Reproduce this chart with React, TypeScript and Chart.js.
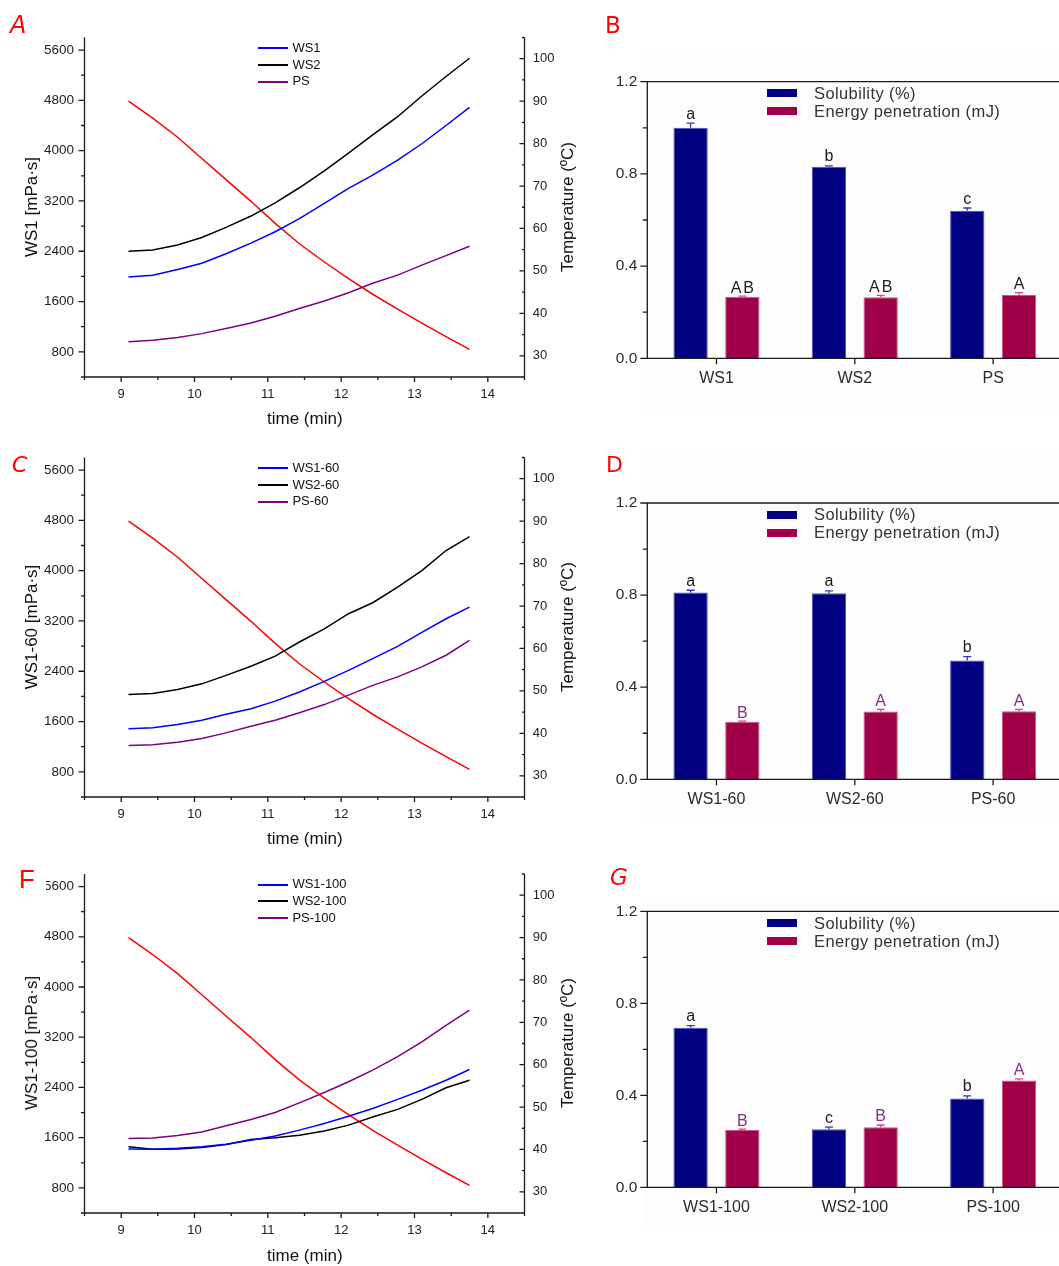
import React, { useEffect, useRef } from 'react';
import { Chart, registerables } from 'chart.js';
Chart.register(...registerables);

// ---------------- data ----------------
const TIME = [9.1, 9.43, 9.77, 10.1, 10.43, 10.77, 11.1, 11.43, 11.77, 12.1, 12.43, 12.77, 13.1, 13.43, 13.75];
const TEMPERATURE = [90, 86, 81.5, 76.5, 71.5, 66.4, 61.2, 56.4, 52.1, 48.2, 44.5, 41, 37.7, 34.5, 31.5];

const WS1 = [1990, 2020, 2110, 2210, 2360, 2530, 2710, 2920, 3160, 3400, 3610, 3850, 4110, 4400, 4690];
const WS2 = [2400, 2420, 2500, 2620, 2780, 2960, 3170, 3410, 3680, 3960, 4250, 4540, 4870, 5180, 5470];
const PS = [960, 985, 1030, 1090, 1170, 1260, 1365, 1490, 1610, 1740, 1890, 2020, 2180, 2330, 2480];

const WS1_60 = [1485, 1500, 1555, 1620, 1715, 1805, 1925, 2070, 2240, 2415, 2600, 2795, 3020, 3235, 3420];
const WS2_60 = [2030, 2045, 2110, 2200, 2335, 2480, 2640, 2865, 3075, 3315, 3490, 3740, 4000, 4320, 4540];
const PS_60 = [1220, 1230, 1270, 1330, 1420, 1525, 1620, 1740, 1870, 2020, 2175, 2310, 2470, 2655, 2890];

const WS1_100 = [1420, 1415, 1430, 1455, 1495, 1560, 1625, 1720, 1825, 1940, 2065, 2210, 2355, 2515, 2685];
const WS2_100 = [1455, 1415, 1420, 1445, 1490, 1570, 1600, 1640, 1705, 1800, 1930, 2050, 2210, 2395, 2515];
const PS_100 = [1585, 1595, 1635, 1690, 1790, 1890, 2000, 2155, 2320, 2490, 2675, 2890, 3125, 3390, 3630];

const TIME_TICKS = [9, 10, 11, 12, 13, 14];
const VISC_TICKS = [800, 1600, 2400, 3200, 4000, 4800, 5600];
const TEMP_TICKS = [30, 40, 50, 60, 70, 80, 90, 100];
const BAR_TICKS = [0, 0.4, 0.8, 1.2];

const CAT_B = ['WS1', 'WS2', 'PS'];
const SOL_B = [1.0, 0.831, 0.64];
const SOL_ERR_B = [0.02, 0.004, 0.012];
const EN_B = [0.267, 0.265, 0.275];
const EN_ERR_B = [0.003, 0.008, 0.01];
const LOW_B = ['a', 'b', 'c'];
const UP_B = ['AB', 'AB', 'A'];

const CAT_D = ['WS1-60', 'WS2-60', 'PS-60'];
const SOL_D = [0.811, 0.808, 0.516];
const SOL_ERR_D = [0.01, 0.01, 0.017];
const EN_D = [0.25, 0.294, 0.296];
const EN_ERR_D = [0.003, 0.01, 0.008];
const LOW_D = ['a', 'a', 'b'];
const UP_D = ['B', 'A', 'A'];

const CAT_G = ['WS1-100', 'WS2-100', 'PS-100'];
const SOL_G = [0.694, 0.252, 0.386];
const SOL_ERR_G = [0.009, 0.01, 0.012];
const EN_G = [0.249, 0.261, 0.465];
const EN_ERR_G = [0.004, 0.01, 0.007];
const LOW_G = ['a', 'c', 'b'];
const UP_G = ['B', 'B', 'A'];

// ---------------- styles ----------------
const FONT = "'Liberation Sans', Arial, sans-serif";
const BLUE = '#0000ff';
const BLACK = '#000000';
const PURPLE = '#7f007f';
const RED = '#ff0000';
const NAVY = '#000080';
const CRIMSON = '#a00048';

function mids(arr: number[]) {
  const out: number[] = [];
  for (let i = 0; i < arr.length - 1; i++) out.push((arr[i] + arr[i + 1]) / 2);
  return out;
}

const axisPlugin = {
  id: 'originAxes',
  afterDraw(chart: any, _a: any, opts: any) {
    const { ctx, chartArea: ca } = chart;
    ctx.save();
    ctx.strokeStyle = '#1a1a1a';
    ctx.lineWidth = 1.3;
    ctx.beginPath();
    for (const l of opts.lines) {
      if (l === 'left') { ctx.moveTo(ca.left, ca.top); ctx.lineTo(ca.left, ca.bottom); }
      if (l === 'right') { ctx.moveTo(ca.right, ca.top); ctx.lineTo(ca.right, ca.bottom); }
      if (l === 'bottom') { ctx.moveTo(ca.left, ca.bottom); ctx.lineTo(ca.right, ca.bottom); }
      if (l === 'top') { ctx.moveTo(ca.left, ca.top); ctx.lineTo(ca.right, ca.top); }
    }
    for (const t of opts.ticks) {
      const s = chart.scales[t.scale];
      const draw = (v: number, len: number) => {
        const p = s.getPixelForValue(v);
        if (t.side === 'left') { ctx.moveTo(ca.left, p); ctx.lineTo(ca.left - len, p); }
        if (t.side === 'right') { ctx.moveTo(ca.right, p); ctx.lineTo(ca.right - len, p); }
        if (t.side === 'bottom') { ctx.moveTo(p, ca.bottom); ctx.lineTo(p, ca.bottom + len); }
      };
      t.major.forEach((v: number) => draw(v, t.majorLen));
      (t.minor || []).forEach((v: number) => draw(v, t.minorLen));
    }
    ctx.stroke();
    ctx.restore();
  },
};

const barDecor = {
  id: 'barDecor',
  afterDatasetsDraw(chart: any, _a: any, opts: any) {
    const { ctx } = chart;
    const y = chart.scales.y;
    ctx.save();
    opts.sets.forEach((set: any, di: number) => {
      const meta = chart.getDatasetMeta(di);
      const values = chart.data.datasets[di].data;
      meta.data.forEach((el: any, i: number) => {
        const top = y.getPixelForValue(values[i] + set.err[i]);
        ctx.strokeStyle = set.errColor;
        ctx.lineWidth = 1.3;
        ctx.beginPath();
        ctx.moveTo(el.x, el.y);
        ctx.lineTo(el.x, top);
        ctx.moveTo(el.x - 4, top);
        ctx.lineTo(el.x + 4, top);
        ctx.stroke();
        ctx.fillStyle = set.letterColor;
        ctx.font = `16px ${FONT}`;
        ctx.textAlign = 'center';
        ctx.textBaseline = 'alphabetic';
        try { (ctx as any).letterSpacing = set.letters[i].length > 1 ? '2px' : '0px'; } catch (e) {}
        ctx.fillText(set.letters[i], el.x + (set.letters[i].length > 1 ? 1 : 0), top - set.gap);
      });
    });
    ctx.restore();
  },
};

type Series = { label: string; values: number[]; color: string };

function LinePanel({ shift, series, yTitle, letter, letterStyle }: { shift: number; series: Series[]; yTitle: string; letter: string; letterStyle: any }) {
  const ref = useRef<HTMLCanvasElement>(null);
  const canvasTop = Math.floor(shift);
  const frac = shift - canvasTop;
  useEffect(() => {
    const tickFont = { family: FONT, size: 13 };
    const chart = new Chart(ref.current!, {
      type: 'line',
      data: {
        datasets: [
          ...series.map((s) => ({
            label: s.label,
            data: TIME.map((t, i) => ({ x: t, y: s.values[i] })),
            borderColor: s.color,
            borderWidth: 1.5,
            pointRadius: 0,
            tension: 0,
            yAxisID: 'y',
          })),
          {
            label: 'Temperature',
            data: TIME.map((t, i) => ({ x: t, y: TEMPERATURE[i] })),
            borderColor: RED,
            borderWidth: 1.5,
            pointRadius: 0,
            tension: 0,
            yAxisID: 'y2',
          },
        ],
      },
      options: {
        animation: false,
        responsive: false,
        maintainAspectRatio: false,
        layout: { padding: { top: 37.5 + frac, left: 0, right: 0, bottom: 0 } },
        plugins: {
          legend: { display: false },
          tooltip: { enabled: false },
          originAxes: {
            lines: ['left', 'right', 'bottom'],
            ticks: [
              { scale: 'y', side: 'left', major: VISC_TICKS, minor: [400, ...mids(VISC_TICKS)], majorLen: 6, minorLen: 3.5 },
              { scale: 'y2', side: 'right', major: TEMP_TICKS, minor: [25, ...mids(TEMP_TICKS), 105], majorLen: 5, minorLen: 2.5 },
              { scale: 'x', side: 'bottom', major: TIME_TICKS, minor: [8.5, ...mids(TIME_TICKS), 14.5], majorLen: 5, minorLen: 3 },
            ],
          },
        } as any,
        scales: {
          x: {
            type: 'linear',
            min: 8.5,
            max: 14.5,
            afterBuildTicks: (s: any) => { s.ticks = TIME_TICKS.map((v) => ({ value: v })); },
            afterFit: (s: any) => { s.height = 63; },
            grid: { display: false, drawTicks: false },
            border: { display: false },
            ticks: { padding: 9.5, font: tickFont, color: '#222', maxRotation: 0, autoSkip: false, callback: (v: any) => String(v) },
          },
          y: {
            position: 'left',
            min: 400,
            max: 5800,
            afterBuildTicks: (s: any) => { s.ticks = VISC_TICKS.map((v) => ({ value: v })); },
            afterFit: (s: any) => { s.width = 84.5; },
            grid: { display: false, drawTicks: false },
            border: { display: false },
            ticks: { padding: 10.5, font: { family: FONT, size: 13.5 }, color: '#222', autoSkip: false, callback: (v: any) => String(v) },
          },
          y2: {
            position: 'right',
            min: 25,
            max: 105,
            afterBuildTicks: (s: any) => { s.ticks = TEMP_TICKS.map((v) => ({ value: v })); },
            afterFit: (s: any) => { s.width = 75.5; },
            grid: { display: false, drawTicks: false },
            border: { display: false },
            ticks: { padding: 8.3, font: tickFont, color: '#222', autoSkip: false, callback: (v: any) => String(v) },
          },
        } as any,
      },
      plugins: [axisPlugin],
    });
    return () => chart.destroy();
  }, []);
  const abs = (top: number): React.CSSProperties => ({ position: 'absolute', top: shift + top });
  return (
    <>
      <canvas ref={ref} width={600} height={440} style={{ position: 'absolute', left: 0, top: canvasTop, width: 600, height: 440 }} />
      {series.map((s, i) => (
        <React.Fragment key={s.label}>
          <div style={{ position: 'absolute', top: Math.round(shift + 47 + i * 16.8), left: 258, width: 30, height: 2, backgroundColor: s.color }} />
          <div style={{ ...abs(47.7 + i * 16.8 - 8), left: 292.4, height: 16, lineHeight: '16px', font: `13px ${FONT}`, color: '#111', whiteSpace: 'nowrap' }}>{s.label}</div>
        </React.Fragment>
      ))}
      <div style={{ ...abs(206.7), left: 32, width: 0, height: 0 }}>
        <div style={{ position: 'absolute', left: 0, top: 0, transform: 'translate(-50%,-50%) rotate(-90deg)', font: `17px ${FONT}`, color: '#111', whiteSpace: 'nowrap' }}>{yTitle}</div>
      </div>
      <div style={{ ...abs(206.7), left: 568, width: 0, height: 0 }}>
        <div style={{ position: 'absolute', left: 0, top: 0, transform: 'translate(-50%,-50%) rotate(-90deg)', font: `17px ${FONT}`, color: '#111', whiteSpace: 'nowrap' }}>Temperature (ºC)</div>
      </div>
      <div style={{ ...abs(419.3), left: 304.8, width: 0, height: 0 }}>
        <div style={{ position: 'absolute', left: 0, top: 0, transform: 'translate(-50%,-50%)', font: `17px ${FONT}`, color: '#111', whiteSpace: 'nowrap' }}>time (min)</div>
      </div>
      <div style={{ position: 'absolute', ...letterStyle }}>{letter}</div>
    </>
  );
}

function BarPanel({ shift, cats, sol, solErr, en, enErr, low, up, upColor, letter, letterStyle, bg }: any) {
  const ref = useRef<HTMLCanvasElement>(null);
  const canvasTop = Math.floor(shift);
  const frac = shift - canvasTop;
  useEffect(() => {
    const chart = new Chart(ref.current!, {
      type: 'bar',
      data: {
        labels: cats,
        datasets: [
          { label: 'Solubility (%)', data: sol, backgroundColor: NAVY, borderColor: '#4b4bc8', borderWidth: 1, borderSkipped: 'start', categoryPercentage: 0.748, barPercentage: 0.663 },
          { label: 'Energy penetration (mJ)', data: en, backgroundColor: CRIMSON, borderColor: '#d0508c', borderWidth: 1, borderSkipped: 'start', categoryPercentage: 0.748, barPercentage: 0.663 },
        ],
      },
      options: {
        animation: false,
        responsive: false,
        maintainAspectRatio: false,
        layout: { padding: { top: 81.7 + frac, left: 0, right: 7.7, bottom: 0 } },
        plugins: {
          legend: { display: false },
          tooltip: { enabled: false },
          originAxes: {
            lines: ['left', 'bottom', 'top'],
            ticks: [
              { scale: 'y', side: 'left', major: BAR_TICKS, minor: mids(BAR_TICKS), majorLen: 7, minorLen: 4.5 },
              { scale: 'x', side: 'bottom', major: cats.map((_: any, i: number) => i), minor: [], majorLen: 6, minorLen: 0 },
            ],
          },
          barDecor: {
            sets: [
              { err: solErr, errColor: '#3535c0', letters: low, letterColor: '#1a1a1a', gap: 4.5 },
              { err: enErr, errColor: '#d8468c', letters: up, letterColor: upColor, gap: 3.5 },
            ],
          },
        } as any,
        scales: {
          x: {
            type: 'category',
            afterFit: (s: any) => { s.height = 61.7; },
            grid: { display: false, drawTicks: false },
            border: { display: false },
            ticks: { padding: 10.4, font: { family: FONT, size: 16 }, color: '#2b2b2b', maxRotation: 0, autoSkip: false },
          },
          y: {
            min: 0,
            max: 1.2,
            afterBuildTicks: (s: any) => { s.ticks = BAR_TICKS.map((v) => ({ value: v })); },
            afterFit: (s: any) => { s.width = 47.3; },
            grid: { display: false, drawTicks: false },
            border: { display: false },
            ticks: { padding: 10, font: { family: FONT, size: 15.5 }, color: '#2b2b2b', autoSkip: false, callback: (v: any) => Number(v).toFixed(1) },
          },
        } as any,
      },
      plugins: [axisPlugin, barDecor],
    });
    return () => chart.destroy();
  }, []);
  const legendRow = (i: number, color: string, text: string) => (
    <React.Fragment key={text}>
      <div style={{ position: 'absolute', top: shift + 89.3 + i * 18, left: 767.3, width: 30, height: 8, background: color }} />
      <div style={{ position: 'absolute', top: shift + 94 + i * 18 - 10, left: 814, height: 20, lineHeight: '20px', font: `16.5px ${FONT}`, letterSpacing: '0.4px', color: '#333', whiteSpace: 'nowrap' }}>{text}</div>
    </React.Fragment>
  );
  return (
    <>
      <div style={{ position: 'absolute', left: bg.left, top: shift + bg.top, width: 1059 - bg.left, height: bg.height, background: '#fdfdfd' }} />
      <canvas ref={ref} width={470} height={420} style={{ position: 'absolute', left: 600, top: canvasTop, width: 470, height: 420 }} />
      {legendRow(0, NAVY, 'Solubility (%)')}
      {legendRow(1, CRIMSON, 'Energy penetration (mJ)')}
      <div style={{ position: 'absolute', ...letterStyle }}>{letter}</div>
    </>
  );
}

const letterBase: React.CSSProperties = { color: RED, lineHeight: 1, whiteSpace: 'nowrap' };

export default function App() {
  useEffect(() => {
    document.body.style.margin = '0';
  }, []);
  return (
    <div style={{ position: 'absolute', left: 0, top: 0, width: 1059, height: 1266, overflow: 'hidden', background: '#fff' }}>
      <LinePanel
        shift={0}
        series={[{ label: 'WS1', values: WS1, color: BLUE }, { label: 'WS2', values: WS2, color: BLACK }, { label: 'PS', values: PS, color: PURPLE }]}
        yTitle="WS1 [mPa·s]"
        letter="A"
        letterStyle={{ ...letterBase, left: 10, top: 11, font: `italic 24px 'DejaVu Sans', sans-serif` }}
      />
      <LinePanel
        shift={420}
        series={[{ label: 'WS1-60', values: WS1_60, color: BLUE }, { label: 'WS2-60', values: WS2_60, color: BLACK }, { label: 'PS-60', values: PS_60, color: PURPLE }]}
        yTitle="WS1-60 [mPa·s]"
        letter="C"
        letterStyle={{ ...letterBase, left: 12, top: 452, font: `italic 22px 'DejaVu Sans', sans-serif` }}
      />
      <LinePanel
        shift={836.5}
        series={[{ label: 'WS1-100', values: WS1_100, color: BLUE }, { label: 'WS2-100', values: WS2_100, color: BLACK }, { label: 'PS-100', values: PS_100, color: PURPLE }]}
        yTitle="WS1-100 [mPa·s]"
        letter="F"
        letterStyle={{ ...letterBase, left: 14, top: 864, width: 32, height: 32, background: '#fff', paddingLeft: 5, boxSizing: 'border-box', font: `26px ${FONT}` }}
      />
      <BarPanel
        shift={0}
        cats={CAT_B}
        sol={SOL_B}
        solErr={SOL_ERR_B}
        en={EN_B}
        enErr={EN_ERR_B}
        low={LOW_B}
        up={UP_B}
        upColor="#222"
        letter="B"
        letterStyle={{ ...letterBase, left: 605, top: 12, font: `23px 'DejaVu Sans', sans-serif` }}
        bg={{ left: 640, top: 48, height: 362 }}
      />
      <BarPanel
        shift={421.3}
        cats={CAT_D}
        sol={SOL_D}
        solErr={SOL_ERR_D}
        en={EN_D}
        enErr={EN_ERR_D}
        low={LOW_D}
        up={UP_D}
        upColor="#7f2f86"
        letter="D"
        letterStyle={{ ...letterBase, left: 606, top: 452, font: `22px 'DejaVu Sans', sans-serif` }}
        bg={{ left: 640, top: 30, height: 370 }}
      />
      <BarPanel
        shift={829.7}
        cats={CAT_G}
        sol={SOL_G}
        solErr={SOL_ERR_G}
        en={EN_G}
        enErr={EN_ERR_G}
        low={LOW_G}
        up={UP_G}
        upColor="#7f2f86"
        letter="G"
        letterStyle={{ ...letterBase, left: 610, top: 864, font: `italic 23px 'DejaVu Sans', sans-serif` }}
        bg={{ left: 643, top: 68, height: 332 }}
      />
    </div>
  );
}
